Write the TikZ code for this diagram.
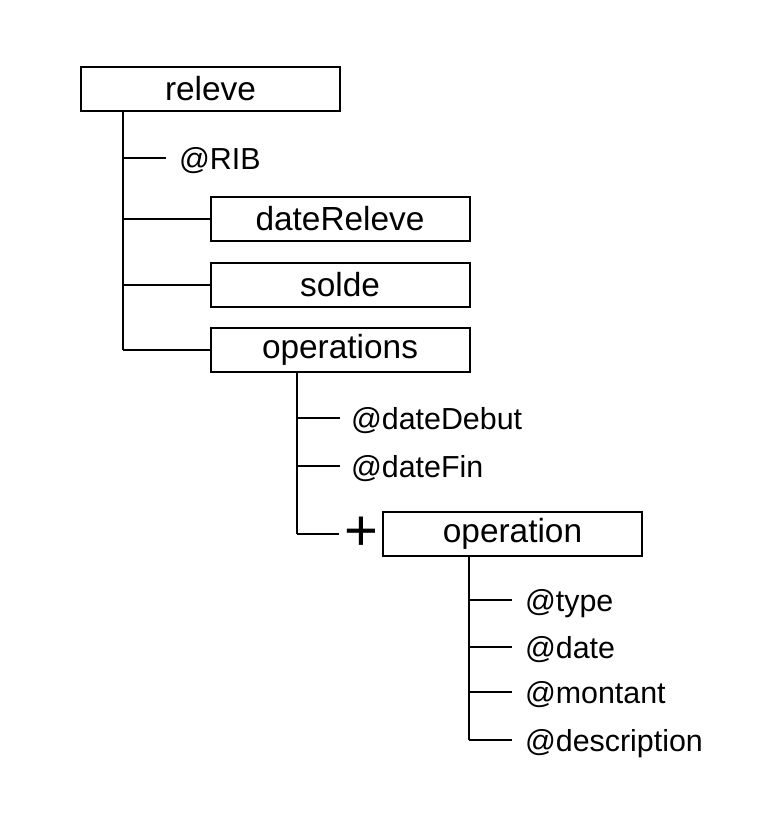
\documentclass[tikz,border=0pt]{standalone}
\usepackage{fontspec}
\setmainfont{Liberation Sans}
\usetikzlibrary{positioning}

\begin{document}
\begin{tikzpicture}[
    x=1pt, y=-1pt,
    font=\fontsize{33.4}{40}\selectfont,
    line width=2pt,
    element/.style={
      draw,
      minimum width=259pt,
      minimum height=44pt,
      inner sep=0pt
    },
    attribute/.style={
      anchor=base west,
      inner sep=0pt,
      font=\fontsize{30.4}{36}\selectfont
    },
    line/.style={line width=2pt}
  ]

  \useasboundingbox (0,0) rectangle (781,816);

  % ===================== elements =====================
  \node[element] (releve) at (210.5,89) {releve};
  \node[element] (datereleve) at (340,219) {dateReleve};
  \node[element] (solde) at (340,285) {solde};
  \node[element] (operations) at (340,350) {operations};
  \node[element] (operation) at (512.5,534) {operation};
  \node[inner sep=0pt, font=\fontsize{58}{58}\selectfont] (plus) at (361.5,534) {+};

  % ===================== attributes (baseline 11pt under the branch) =====================
  \node[attribute] (rib) at (178,169) {@RIB};
  \node[attribute] (datedebut) at (350,429) {@dateDebut};
  \node[attribute] (datefin) at (350,477) {@dateFin};
  \node[attribute] (type) at (524,611) {@type};
  \node[attribute] (date) at (524,658) {@date};
  \node[attribute] (montant) at (524,703) {@montant};
  \node[attribute] (description) at (524,751) {@description};

  % ===================== trunks =====================
  \coordinate (trunkreleve) at ([xshift=43pt]releve.south west);
  \coordinate (trunkops) at ([xshift=87pt]operations.south west);
  \coordinate (trunkop) at ([xshift=87pt]operation.south west);

  \draw[line] (trunkreleve) -- (trunkreleve |- operations.west);
  \draw[line] (trunkops) -- (trunkops |- operation.west);
  \draw[line] (trunkop) -- ([yshift=11pt]trunkop |- description.base);

  % ===================== releve children =====================
  \draw[line] ([yshift=11pt]trunkreleve |- rib.base) -- ([shift={(-12,-11)}]rib.base west);
  \draw[line] (trunkreleve |- datereleve.west) -- (datereleve.west);
  \draw[line] (trunkreleve |- solde.west) -- (solde.west);
  \draw[line] (trunkreleve |- operations.west) -- (operations.west);

  % ===================== operations children =====================
  \draw[line] ([yshift=11pt]trunkops |- datedebut.base) -- ([shift={(-10,-11)}]datedebut.base west);
  \draw[line] ([yshift=11pt]trunkops |- datefin.base) -- ([shift={(-10,-11)}]datefin.base west);
  \draw[line] (trunkops |- operation.west) -- ++(42,0);

  % ===================== operation children =====================
  \draw[line] ([yshift=11pt]trunkop |- type.base) -- ([shift={(-12,-11)}]type.base west);
  \draw[line] ([yshift=11pt]trunkop |- date.base) -- ([shift={(-12,-11)}]date.base west);
  \draw[line] ([yshift=11pt]trunkop |- montant.base) -- ([shift={(-12,-11)}]montant.base west);
  \draw[line] ([yshift=11pt]trunkop |- description.base) -- ([shift={(-12,-11)}]description.base west);

\end{tikzpicture}
\end{document}
